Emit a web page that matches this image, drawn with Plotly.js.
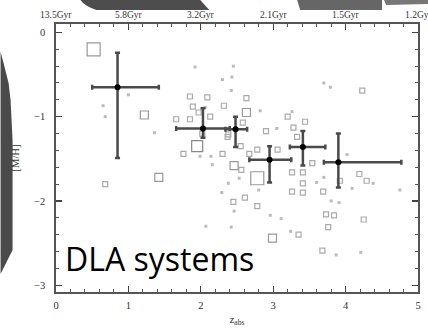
<!DOCTYPE html>
<html><head><meta charset="utf-8">
<script src="https://cdn.plot.ly/plotly-3.0.1.min.js"></script>
<style>html,body{margin:0;padding:0;background:#fff;overflow:hidden}#c{width:428px;height:328px}</style>
</head><body><div id="c"></div>
<script>
// ---- data ----
const largeX = [0.52, 2.78];
const largeY = [-0.20, -1.73];
const bigX = [1.95];
const bigY = [-1.35];
const mediumX = [1.22, 1.42, 2.99, 2.46, 2.63];
const mediumY = [-0.98, -1.72, -2.44, -1.58, -0.95];
const smallX = [0.68, 2.30, 2.61, 3.28, 3.41, 3.26, 2.55, 2.32, 3.41, 3.26, 3.35, 3.73, 3.68, 4.25, 2.78,
  1.85, 1.89, 1.66, 1.85, 2.13, 1.76, 2.02, 2.09, 2.63, 1.97, 2.58, 2.90, 3.20, 3.44, 4.23, 3.33, 2.37,
  3.06, 2.78, 2.67, 2.56, 2.45, 3.54, 3.69, 3.92, 4.19, 4.29, 3.84, 3.76, 3.41, 2.38];
const smallY = [-1.80, -1.44, -1.96, -1.13, -1.90, -1.89, -1.35, -0.87, -1.66, -1.66, -2.40, -2.16, -2.59, -2.22, -2.06,
  -0.76, -0.88, -1.03, -1.03, -1.00, -1.44, -1.20, -0.77, -0.78, -0.95, -1.07, -1.17, -1.00, -1.06, -0.69, -1.24, -1.24,
  -1.39, -1.39, -1.44, -1.63, -2.01, -1.55, -1.89, -1.76, -1.68, -1.76, -2.17, -2.31, -1.79, -1.21];
const dotX = [1.00, 0.65, 0.68, 1.36, 1.92, 2.07, 2.45, 2.30, 2.43, 2.42, 2.82, 3.05, 3.26, 3.70, 3.79, 4.02,
  1.99, 2.14, 2.16, 2.53, 2.38, 2.29, 2.46, 2.96, 2.80, 2.42, 3.11, 3.60, 3.70, 4.09, 4.38, 4.75, 3.80, 3.91,
  3.87, 4.21, 3.24, 2.06];
const dotY = [-0.74, -0.87, -1.00, -1.19, -0.41, -2.30, -0.40, -0.56, -0.53, -0.69, -0.93, -1.14, -0.94, -0.60, -0.65, -1.45,
  -1.47, -1.47, -1.57, -1.73, -1.79, -1.90, -2.12, -2.17, -1.87, -2.31, -2.21, -1.78, -1.72, -1.85, -1.79, -1.87, -2.00, -2.02,
  -2.64, -2.61, -2.36, -0.89];
// binned means with asymmetric error bars
const binX = [0.85, 2.03, 2.48, 2.95, 3.41, 3.90];
const binY = [-0.65, -1.14, -1.15, -1.51, -1.36, -1.54];
const binXLo = [0.50, 1.66, 2.34, 2.67, 3.23, 3.70];
const binXHi = [1.42, 2.40, 2.64, 3.25, 3.72, 4.77];
const binYLo = [-1.49, -1.25, -1.36, -1.78, -1.58, -1.84];
const binYHi = [-0.24, -0.90, -1.00, -1.35, -1.17, -1.20];
const xTicks = [0, 1, 2, 3, 4, 5];
const yTicks = [0, -1, -2, -3];
const yTickText = ['0', '\u22121', '\u22122', '\u22123'];
const ageTicks = [0, 1, 2, 3, 4, 5];
const ageLabels = ['13.5Gyr', '5.8Gyr', '3.2Gyr', '2.1Gyr', '1.5Gyr', '1.2Gyr'];

// ---- figure ----
const L = 55.5, R = 418, T = 24, B = 292;
const px = v => (v - L) / (R - L);
const py = v => (B - v) / (B - T);

const sq = (x, y, s, c) => ({x, y, type: 'scatter', mode: 'markers', hoverinfo: 'skip',
  marker: {symbol: 'square-open', size: s, color: c, line: {width: 1.2, color: c}}});

const traces = [
  {x: dotX, y: dotY, type: 'scatter', mode: 'markers', marker: {symbol: 'square', size: 3, color: '#bbb'}},
  sq(smallX, smallY, 5, '#aaa'),
  sq(mediumX, mediumY, 8, '#999'),
  sq(bigX, bigY, 11, '#888'),
  sq(largeX, largeY, 13, '#999'),
  {x: binX, y: binY, type: 'scatter', mode: 'markers',
    marker: {size: 6, color: '#000'},
    error_x: {type: 'data', symmetric: false,
      array: binXHi.map((v, i) => v - binX[i]), arrayminus: binX.map((v, i) => v - binXLo[i]),
      color: '#4a4a4a', thickness: 2.5, width: 2.5},
    error_y: {type: 'data', symmetric: false,
      array: binYHi.map((v, i) => v - binY[i]), arrayminus: binY.map((v, i) => v - binYLo[i]),
      color: '#4a4a4a', thickness: 2.5, width: 2.5}}
];

const tickFont = {family: 'Liberation Serif, serif', size: 10.5, color: '#333'};
const shapes = [
  // slide decorations
  {type: 'path', xref: 'paper', yref: 'paper', layer: 'above', line: {width: 0}, fillcolor: '#4a4a4a',
    path: `M ${px(0)} ${py(52)} L ${px(3)} ${py(63)} L ${px(8)} ${py(83)} L ${px(10)} ${py(100)} L ${px(12)} ${py(140)} L ${px(12)} ${py(250)} L ${px(0)} ${py(274)} Z`},
  {type: 'path', xref: 'paper', yref: 'paper', layer: 'above', line: {width: 0}, fillcolor: '#4d4d4d',
    path: `M ${px(80)} ${py(0)} L ${px(200)} ${py(0)} L ${px(209)} ${py(10)} L ${px(96)} ${py(10)} Q ${px(84)} ${py(6)} ${px(80)} ${py(0)} Z`},
  {type: 'path', xref: 'paper', yref: 'paper', layer: 'above', line: {width: 0}, fillcolor: '#666',
    path: `M ${px(297)} ${py(0)} L ${px(382)} ${py(0)} L ${px(382)} ${py(10)} L ${px(300)} ${py(10)} Z`},
  {type: 'path', xref: 'paper', yref: 'paper', layer: 'above', line: {width: 0}, fillcolor: '#777',
    path: `M ${px(384)} ${py(0)} L ${px(428)} ${py(0)} L ${px(428)} ${py(4)} L ${px(386)} ${py(5)} Z`}
];

const annotations = ageTicks.map((t, i) => ({text: ageLabels[i], xref: 'x', yref: 'paper', x: t, y: py(15),
  xanchor: 'center', yanchor: 'middle', showarrow: false,
  font: {family: 'Liberation Serif, serif', size: 9.5, color: '#333'}}));
annotations.push({text: 'DLA systems', xref: 'paper', yref: 'paper', x: px(63), y: py(258), xanchor: 'left', yanchor: 'middle',
  showarrow: false, font: {family: 'Open Sans, sans-serif', size: 32, color: '#000'}});

const layout = {
  width: 428, height: 328, showlegend: false,
  paper_bgcolor: '#fff', plot_bgcolor: '#fff',
  margin: {l: L, r: 428 - R, t: T, b: 328 - B, pad: 0},
  xaxis: {range: [0, 5], tickvals: xTicks, ticks: 'inside', ticklen: 6, tickwidth: 1.2, tickcolor: '#444',
    showline: true, linecolor: '#555', linewidth: 1.6, mirror: 'allticks', showgrid: false, zeroline: false,
    tickfont: tickFont, ticklabelstandoff: 3,
    minor: {dtick: 0.2, ticks: 'inside', ticklen: 3, tickwidth: 1, tickcolor: '#555', showgrid: false},
    title: {text: 'z<sub>abs</sub>', font: {family: 'Liberation Serif, serif', size: 11, color: '#333'}, standoff: 5}},
  yaxis: {range: [-3.08, 0.1], tickvals: yTicks, ticktext: yTickText, ticks: 'inside', ticklen: 6, tickwidth: 1.2,
    tickcolor: '#444', showline: true, linecolor: '#555', linewidth: 1.6, mirror: 'allticks', showgrid: false,
    zeroline: false, tickfont: tickFont, ticklabelstandoff: 7,
    minor: {dtick: 0.2, ticks: 'inside', ticklen: 3, tickwidth: 1, tickcolor: '#555', showgrid: false},
    title: {text: '[M/H]', font: {family: 'Liberation Serif, serif', size: 10.5, color: '#333'}, standoff: 12}},
  shapes: shapes,
  annotations: annotations
};
Plotly.newPlot('c', traces, layout, {staticPlot: true, displayModeBar: false});
</script></body></html>
